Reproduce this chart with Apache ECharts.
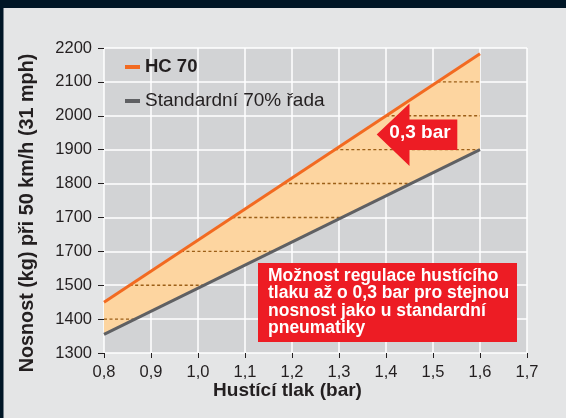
<!DOCTYPE html>
<html>
<head>
<meta charset="utf-8">
<script src="https://cdn.jsdelivr.net/npm/echarts@6/dist/echarts.min.js"></script>
<style>
html,body{margin:0;padding:0;background:#e4e5e6;}
#chart{width:566px;height:418px;}
</style>
</head>
<body>
<div id="chart"></div>
<script>
// ---- data ----
const pressure = [0.8, 1.6];           // bar
const hc70 = [1450, 2183];             // kg
const standard = [1355, 1900];         // kg
const yTickLabels = ['1300','1400','1500','1700','1700','1800','1900','2000','2100','2200'];
const xTickLabels = ['0,8','0,9','1,0','1,1','1,2','1,3','1,4','1,5','1,6','1,7'];
const dashLevels = [1400, 1500, 1600, 1700, 1800, 1900, 2000, 2100];
const seriesNames = ['HC 70', 'Standardní 70% řada'];

const FONT = '"Liberation Sans", Arial, Helvetica, sans-serif';
const ORANGE = '#f26a21', GRAY = '#5f6063', RED = '#ed1c24', NAVY = '#001626';

function xAt(ys, level){
  const t = (level - ys[0]) / (ys[1] - ys[0]);
  const x = pressure[0] + t * (pressure[1] - pressure[0]);
  return Math.min(pressure[1], Math.max(pressure[0], x));
}

const chart = echarts.init(document.getElementById('chart'), null, {renderer:'canvas'});
chart.setOption({
  animation:false,
  backgroundColor:'#e4e5e6',
  textStyle:{fontFamily:FONT},
  grid:{left:104, right:39, top:48, bottom:65, show:true, backgroundColor:'#d2d3d5', borderWidth:0},
  xAxis:{
    type:'value', min:0.8, max:1.7, interval:0.1,
    axisLine:{show:false},
    axisTick:{show:true, length:5, lineStyle:{color:'#231f20', width:1}},
    axisLabel:{margin:11, fontSize:16.5, color:'#231f20', fontFamily:FONT,
      formatter:(v)=>xTickLabels[Math.round((v-0.8)*10)] || ''},
    splitLine:{show:true, lineStyle:{color:'#ffffff', width:1.5}}
  },
  yAxis:{
    type:'value', min:1300, max:2200, interval:100,
    axisLine:{show:false},
    axisTick:{show:true, length:6, lineStyle:{color:'#231f20', width:1}},
    axisLabel:{margin:12, fontSize:16.5, color:'#231f20', fontFamily:FONT,
      formatter:(v)=>yTickLabels[Math.round((v-1300)/100)] || ''},
    splitLine:{show:true, lineStyle:{color:'#ffffff', width:1.5}}
  },
  legend:{
    orient:'vertical', left:125, top:57.5, padding:0, itemGap:15,
    itemWidth:15, itemHeight:4,
    data:[{name:seriesNames[0], icon:'rect'},{name:seriesNames[1], icon:'rect'}],
    formatter:(n)=> n===seriesNames[0] ? '{b|'+n+'}' : '{r|'+n+'}',
    textStyle:{color:'#231f20', fontFamily:FONT,
      rich:{b:{fontWeight:'bold', fontSize:18.5, fontFamily:FONT, color:'#231f20'},
            r:{fontSize:19, fontFamily:FONT, color:'#231f20'}}}
  },
  series:[
    {
      type:'custom', name:'band', silent:true, z:1,
      data:[[pressure[0]]],
      renderItem:(params, api)=>{
        const pts = [
          api.coord([pressure[0], standard[0]]),
          api.coord([pressure[1], standard[1]]),
          api.coord([pressure[1], hc70[1]]),
          api.coord([pressure[0], hc70[0]])
        ];
        return {type:'polygon', shape:{points:pts}, style:{fill:'#fdd5a0', stroke:null}};
      }
    },
    {
      type:'custom', name:'dashes', silent:true, z:2,
      data:dashLevels.map(l=>[pressure[0], l]),
      renderItem:(params, api)=>{
        const level = api.value(1);
        const xa = xAt(hc70, level), xb = xAt(standard, level);
        if (xb <= xa) return null;
        const p1 = api.coord([xa, level]), p2 = api.coord([xb, level]);
        return {type:'line', shape:{x1:p1[0], y1:p1[1], x2:p2[0], y2:p2[1]},
          style:{stroke:'#9c5f17', lineWidth:1.4, lineDash:[3,2.5]}};
      }
    },
    {
      type:'line', name:seriesNames[1], z:3,
      data:pressure.map((p,i)=>[p, standard[i]]),
      showSymbol:false, symbol:'none', color:GRAY,
      lineStyle:{color:GRAY, width:3}
    },
    {
      type:'line', name:seriesNames[0], z:4,
      data:pressure.map((p,i)=>[p, hc70[i]]),
      showSymbol:false, symbol:'none', color:ORANGE,
      lineStyle:{color:ORANGE, width:3}
    }
  ],
  graphic:[
    {type:'rect', z:100, shape:{x:0,y:0,width:566,height:8}, style:{fill:NAVY}},
    {type:'rect', z:100, shape:{x:0,y:0,width:3.5,height:418}, style:{fill:NAVY}},
    {type:'text', z:100, x:28, y:213, rotation:Math.PI/2,
      style:{text:'Nosnost (kg) při 50 km/h (31 mph)', font:'bold 19.8px '+FONT, fill:'#231f20',
        align:'center', verticalAlign:'middle'}},
    {type:'text', z:100, x:287.5, y:390.5,
      style:{text:'Hustící tlak (bar)', font:'bold 19px '+FONT, fill:'#231f20',
        align:'center', verticalAlign:'middle'}},
    {type:'polygon', z:100, shape:{points:[[376.7,134.5],[409.5,103.5],[409.5,119.5],[457.3,119.5],[457.3,150],[409.5,150],[409.5,166]]},
      style:{fill:RED}},
    {type:'text', z:101, x:420, y:132.5,
      style:{text:'0,3 bar', font:'bold 19px '+FONT, fill:'#ffffff', align:'center', verticalAlign:'middle'}},
    {type:'rect', z:100, shape:{x:258,y:263,width:259,height:79}, style:{fill:RED}},
    {type:'text', z:101, x:268, y:267,
      style:{text:'Možnost regulace hustícího\ntlaku až o 0,3 bar pro stejnou\nnosnost jako u standardní\npneumatiky',
        font:'bold 17.5px '+FONT, lineHeight:17.5, fill:'#ffffff', align:'left', verticalAlign:'top'}}
  ]
});
</script>
</body>
</html>
